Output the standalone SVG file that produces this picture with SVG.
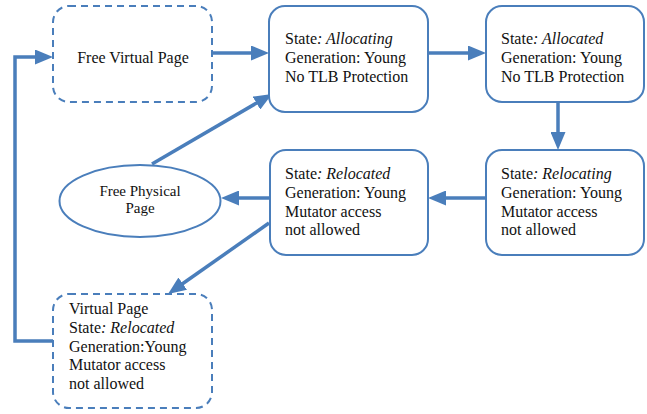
<svg xmlns="http://www.w3.org/2000/svg" width="647" height="414" viewBox="0 0 647 414">
<style>
.box{fill:#fff;stroke:#4a7ebb;stroke-width:2}
.dash{fill:#fff;stroke:#4a7ebb;stroke-width:2;stroke-dasharray:7 5}
.t{font-family:"Liberation Serif","Times New Roman","DejaVu Serif",serif;font-size:16px;fill:#111}
.ts{font-family:"Liberation Serif","Times New Roman","DejaVu Serif",serif;font-size:15px;fill:#111}
.c{fill:none;stroke:#4a7ebb;stroke-width:3.5}
</style>
<defs>
<marker id="ah" markerUnits="userSpaceOnUse" markerWidth="18" markerHeight="15" refX="2" refY="7.5" orient="auto">
<path d="M0,0 L18,7.5 L0,15 z" fill="#4a7ebb"/>
</marker>
</defs>
<g id="connectors">
<path class="c" d="M212,53 L253,53" marker-end="url(#ah)"/>
<path class="c" d="M428,53 L470,53" marker-end="url(#ah)"/>
<path class="c" d="M558,102 L558,134" marker-end="url(#ah)"/>
<path class="c" d="M486,198 L444,198" marker-end="url(#ah)"/>
<path class="c" d="M270,198 L237,198" marker-end="url(#ah)"/>
<path class="c" d="M152,164 L258.2,102.1" marker-end="url(#ah)"/>
<path class="c" d="M269,223 L181.1,284.8" marker-end="url(#ah)"/>
<path class="c" d="M53,341 L15,341 L15,57 L37,57" marker-end="url(#ah)"/>
</g>
<g id="free-virtual-page">
<rect class="dash" x="53" y="6" width="159" height="96" rx="16"/>
<text class="t" x="133" y="63" text-anchor="middle">Free Virtual Page</text>
</g>
<g id="allocating">
<rect class="box" x="269" y="6" width="159" height="106" rx="16"/>
<text class="t" x="285" y="44">State<tspan font-style="italic">: Allocating</tspan></text>
<text class="t" x="285" y="63">Generation: Young</text>
<text class="t" x="285" y="82">No TLB Protection</text>
</g>
<g id="allocated">
<rect class="box" x="486" y="6" width="158" height="96" rx="16"/>
<text class="t" x="501" y="44">State<tspan font-style="italic">: Allocated</tspan></text>
<text class="t" x="501" y="63">Generation: Young</text>
<text class="t" x="501" y="82">No TLB Protection</text>
</g>
<g id="relocating">
<rect class="box" x="486" y="150" width="158" height="105" rx="16"/>
<text class="t" x="501" y="179">State<tspan font-style="italic">: Relocating</tspan></text>
<text class="t" x="501" y="198">Generation: Young</text>
<text class="t" x="501" y="216.5">Mutator access</text>
<text class="t" x="501" y="235">not allowed</text>
</g>
<g id="relocated">
<rect class="box" x="270" y="150" width="158" height="105" rx="16"/>
<text class="t" x="285" y="179">State<tspan font-style="italic">: Relocated</tspan></text>
<text class="t" x="285" y="198">Generation: Young</text>
<text class="t" x="285" y="216.5">Mutator access</text>
<text class="t" x="285" y="235">not allowed</text>
</g>
<g id="free-physical-page">
<ellipse class="box" cx="140" cy="201" rx="80.5" ry="36"/>
<text class="ts" x="140" y="196" text-anchor="middle">Free Physical</text>
<text class="ts" x="140" y="213" text-anchor="middle">Page</text>
</g>
<g id="virtual-page">
<rect class="dash" x="53" y="294" width="159" height="114" rx="16"/>
<text class="t" x="69" y="314">Virtual Page</text>
<text class="t" x="69" y="333">State<tspan font-style="italic">: Relocated</tspan></text>
<text class="t" x="69" y="351.5">Generation:Young</text>
<text class="t" x="69" y="370">Mutator access</text>
<text class="t" x="69" y="389">not allowed</text>
</g>
</svg>
